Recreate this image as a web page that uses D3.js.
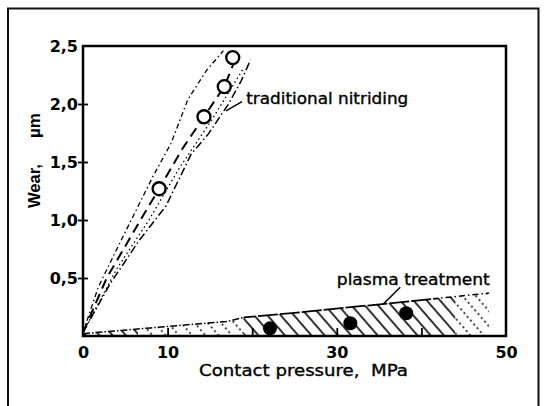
<!DOCTYPE html>
<html><head><meta charset="utf-8">
<script src="https://cdn.jsdelivr.net/npm/d3@7"></script>
<style>body{margin:0;background:#fff}svg{display:block}</style>
</head><body>
<svg id="c" width="546" height="406"></svg>
<script>
// ---------- data ----------
const xTickValues = [10, 20, 30, 40];
const xLabelValues = [0, 10, 30, 50];
const yTickValues = [0.5, 1.0, 1.5, 2.0, 2.5];
const yTickLabels = ["0,5", "1,0", "1,5", "2,0", "2,5"];

// open circles: traditional nitriding
const nitridingPoints = [[9.0, 1.27], [14.3, 1.89], [16.7, 2.15], [17.7, 2.40]];
// filled circles: plasma treatment
const plasmaPoints = [[22.1, 0.066], [31.6, 0.11], [38.2, 0.196]];

// scatter band of traditional nitriding
const nitridingUpper = [[0, 0.03], [1.8, 0.42], [4.2, 0.78], [8.3, 1.38], [10.4, 1.66], [12.4, 2.04], [14.6, 2.29], [16.6, 2.46]];
const nitridingMid   = [[0, 0.03], [2.8, 0.50], [5.2, 0.80], [7.2, 1.05], [9.0, 1.27], [11.8, 1.62], [14.3, 1.89], [16.7, 2.15], [18.2, 2.42]];
const nitridingInner = [[0, 0.03], [4.0, 0.58], [7.8, 1.00], [11.4, 1.45], [15.2, 1.86], [18.9, 2.30]];
const nitridingLower = [[0, 0.03], [3.2, 0.45], [6.6, 0.82], [9.8, 1.12], [12.8, 1.57], [14.8, 1.74], [17.2, 2.00], [18.7, 2.20], [19.8, 2.38]];

// upper boundary of plasma treatment band (lower boundary is zero)
const plasmaUpper = [[0, 0.02], [8, 0.07], [17, 0.125], [19, 0.16], [25, 0.20], [36, 0.28], [42, 0.325], [48, 0.37]];

// ---------- layout ----------
const svg = d3.select("#c");
const L = 83, R = 506, T = 46, B = 336;
const x = d3.scaleLinear().domain([0, 50]).range([L, R]);
const y = d3.scaleLinear().domain([0, 2.5]).range([B, T]);
const defs = svg.append("defs");

// outer frame of the scanned figure
svg.append("path").attr("d", "M8,406 V8.5 H538.5 V406")
  .attr("fill", "none").attr("stroke", "#111").attr("stroke-width", 2);

// ---------- hatch patterns ----------
function hatch(id, dash, w) {
  const p = defs.append("pattern").attr("id", id)
    .attr("patternUnits", "userSpaceOnUse").attr("width", 10).attr("height", 10)
    .attr("patternTransform", "rotate(-41)");
  p.append("line").attr("x1", 5).attr("x2", 5).attr("y1", 0).attr("y2", 10)
    .attr("stroke", "#000").attr("stroke-width", w)
    .attr("stroke-dasharray", dash);
}
hatch("hSolid", null, 1.6);
hatch("hDot", "2,3", 1.4);

const area = d3.area().x(d => x(d[0])).y0(y(0)).y1(d => y(d[1]));
const zones = [
  {from: 0, to: 6.5, fill: "url(#hSolid)"},
  {from: 6.5, to: 19, fill: "url(#hDot)"},
  {from: 19, to: 44, fill: "url(#hSolid)"},
  {from: 44, to: 48, fill: "url(#hDot)"}
];
zones.forEach((z, i) => {
  defs.append("clipPath").attr("id", "z" + i).append("rect")
    .attr("x", x(z.from)).attr("y", T).attr("width", x(z.to) - x(z.from)).attr("height", B - T);
  svg.append("path").datum(plasmaUpper).attr("d", area)
    .attr("fill", z.fill).attr("clip-path", "url(#z" + i + ")");
});

// plasma upper line in segments of differing dash style
const line = d3.line().x(d => x(d[0])).y(d => y(d[1]));
const lineZones = [
  {from: 0, to: 19, dash: "7,2,1.5,2", w: 1.5},
  {from: 19, to: 42, dash: "20,2", w: 1.8},
  {from: 42, to: 48.5, dash: "6,3,1.5,3", w: 1.5}
];
lineZones.forEach((z, i) => {
  defs.append("clipPath").attr("id", "lz" + i).append("rect")
    .attr("x", x(z.from)).attr("y", T).attr("width", x(z.to) - x(z.from)).attr("height", B - T);
  svg.append("path").datum(plasmaUpper).attr("d", line)
    .attr("fill", "none").attr("stroke", "#000").attr("stroke-width", z.w)
    .attr("stroke-dasharray", z.dash).attr("clip-path", "url(#lz" + i + ")");
});

// ---------- nitriding band ----------
[
  {d: nitridingUpper, dash: "5,3,1.5,3", w: 1.3},
  {d: nitridingMid, dash: "10,6", w: 2},
  {d: nitridingInner, dash: "1.5,3", w: 1.3},
  {d: nitridingLower, dash: "8,3,1.5,3", w: 1.5}
].forEach(s => {
  svg.append("path").datum(s.d).attr("d", line)
    .attr("fill", "none").attr("stroke", "#000").attr("stroke-width", s.w)
    .attr("stroke-dasharray", s.dash);
});

// ---------- axes ----------
// plot box
svg.append("rect").attr("x", L).attr("y", T).attr("width", R - L).attr("height", B - T)
  .attr("fill", "none").attr("stroke", "#000").attr("stroke-width", 2.5);

// inner ticks on x axis
svg.append("g").attr("transform", `translate(0,${B})`)
  .call(d3.axisBottom(x).tickValues(xTickValues).tickSizeInner(-8).tickSizeOuter(0).tickFormat(""))
  .call(g => g.select(".domain").remove())
  .call(g => g.selectAll("line").attr("stroke-width", 1.8));
// x labels
svg.append("g").attr("transform", `translate(0,${B})`)
  .call(d3.axisBottom(x).tickValues(xLabelValues).tickSize(0).tickPadding(11).tickFormat(d3.format("d")))
  .call(g => g.select(".domain").remove())
  .call(g => g.selectAll("text").attr("font-family", "DejaVu Sans").attr("font-weight", "bold")
      .attr("font-size", 16).attr("fill", "#000"));

// y ticks crossing the axis
const yt = yTickValues.filter(v => v < 2.5);
svg.append("g").attr("transform", `translate(${L},0)`)
  .call(d3.axisLeft(y).tickValues(yt).tickSizeInner(5).tickSizeOuter(0).tickFormat(""))
  .call(g => g.select(".domain").remove())
  .call(g => g.selectAll("line").attr("stroke-width", 1.8));
svg.append("g").attr("transform", `translate(${L},0)`)
  .call(d3.axisLeft(y).tickValues(yt).tickSizeInner(-5).tickSizeOuter(0).tickFormat(""))
  .call(g => g.select(".domain").remove())
  .call(g => g.selectAll("line").attr("stroke-width", 1.8));
// y labels
svg.append("g").attr("transform", `translate(${L},0)`)
  .call(d3.axisLeft(y).tickValues(yTickValues).tickSize(0).tickPadding(5)
      .tickFormat((d, i) => yTickLabels[i]))
  .call(g => g.select(".domain").remove())
  .call(g => g.selectAll("text").attr("font-family", "DejaVu Sans").attr("font-weight", "bold")
      .attr("font-size", 16).attr("fill", "#000"));

// axis titles
svg.append("text").attr("x", 199).attr("y", 376)
  .attr("font-family", "DejaVu Sans").attr("font-size", 16)
  .attr("stroke", "#000").attr("stroke-width", 0.35)
  .attr("textLength", 209).attr("lengthAdjust", "spacingAndGlyphs")
  .attr("xml:space", "preserve")
  .text("Contact pressure,  MPa");

svg.append("text").attr("transform", "translate(40,208) rotate(-90)")
  .attr("font-family", "Liberation Sans, Arial, sans-serif").attr("font-weight", "bold").attr("font-size", 17)
  .attr("textLength", 44).attr("lengthAdjust", "spacingAndGlyphs")
  .text("Wear,");
svg.append("text").attr("transform", "translate(40,138) rotate(-90)")
  .attr("font-family", "Liberation Sans, Arial, sans-serif").attr("font-weight", "bold").attr("font-size", 17)
  .attr("textLength", 25).attr("lengthAdjust", "spacingAndGlyphs")
  .text("µm");

// ---------- markers ----------
svg.append("g").selectAll("circle").data(nitridingPoints).join("circle")
  .attr("cx", d => x(d[0])).attr("cy", d => y(d[1])).attr("r", 6.5)
  .attr("fill", "#fff").attr("stroke", "#000").attr("stroke-width", 2.4);
svg.append("g").selectAll("circle").data(plasmaPoints).join("circle")
  .attr("cx", d => x(d[0])).attr("cy", d => y(d[1])).attr("r", 7)
  .attr("fill", "#000");

// ---------- annotations ----------
function note(txt, lx1, ly1, lx2, ly2, tx, ty, len) {
  svg.append("line").attr("x1", x(lx1)).attr("y1", y(ly1)).attr("x2", x(lx2)).attr("y2", y(ly2))
    .attr("stroke", "#000").attr("stroke-width", 1.5);
  svg.append("text").attr("x", x(tx)).attr("y", y(ty))
    .attr("font-family", "DejaVu Sans").attr("font-size", 15)
    .attr("stroke", "#000").attr("stroke-width", 0.35)
    .attr("textLength", len).attr("lengthAdjust", "spacingAndGlyphs")
    .text(txt);
}
note("traditional nitriding", 16.9, 1.94, 18.8, 2.02, 19.3, 2.004, 162);
note("plasma treatment", 35.5, 0.276, 37.5, 0.42, 30.0, 0.44, 153);
</script>
</body></html>
